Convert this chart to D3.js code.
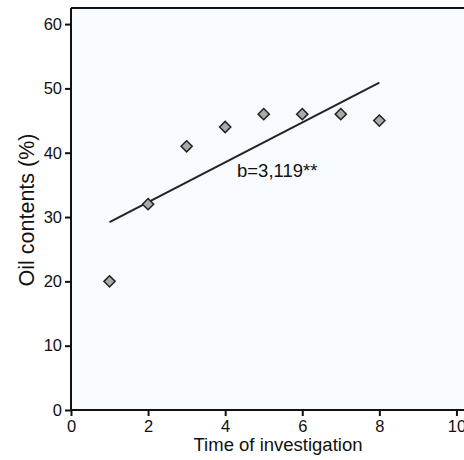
<!DOCTYPE html>
<html><head><meta charset="utf-8">
<script src="https://cdn.jsdelivr.net/npm/d3@7"></script>
<style>body{margin:0;background:#fff}svg{display:block}text{font-family:"Liberation Sans",Arial,sans-serif}</style>
</head><body>
<svg id="c" width="464" height="460"></svg>
<script>
const xs = [1,2,3,4,5,6,7,8];
const oil = [20,32,41,44,46,46,46,45];
const slope = 3.119;
const lineX = [1,8];
const lineY = [29.2,50.9];
const xTicks = [0,2,4,6,8,10];
const yTicks = [0,10,20,30,40,50,60];

const svg = d3.select("#c");
const x = d3.scaleLinear().domain([0,10.3]).range([71,468]);
const y = d3.scaleLinear().domain([0,62.5]).range([410,8]);

svg.append("rect").attr("x",x(0)).attr("y",y(62.5)).attr("width",x(10.3)-x(0)).attr("height",y(0)-y(62.5)).attr("fill","#f7fbff");
svg.append("line").attr("x1",x(0)).attr("x2",x(10.3)).attr("y1",y(62.5)).attr("y2",y(62.5)).attr("stroke","#111").attr("stroke-width",2);

const gx = svg.append("g").attr("transform",`translate(0,${y(0)})`)
  .call(d3.axisBottom(x).tickValues(xTicks).tickSize(6).tickPadding(4).tickFormat(d3.format("d")));
const gy = svg.append("g").attr("transform",`translate(${x(0)},0)`)
  .call(d3.axisLeft(y).tickValues(yTicks).tickSize(6).tickPadding(3).tickFormat(d3.format("d")));
[gx,gy].forEach(g=>{
  g.selectAll("path,line").attr("stroke","#111").attr("stroke-width",2);
  g.selectAll("text").attr("font-size",16.5).attr("fill","#111").attr("font-family","Liberation Sans, Arial, sans-serif");
});
gx.select(".domain").attr("d",`M${x(0)},0H${x(10.3)}`);
gy.select(".domain").attr("d",`M0,${y(0)}V${y(62.5)}`);

svg.append("line").attr("x1",x(lineX[0])).attr("y1",y(lineY[0])).attr("x2",x(lineX[1])).attr("y2",y(lineY[1]))
  .attr("stroke","#222").attr("stroke-width",2);

const sym = d3.symbol().type(d3.symbolDiamond2).size(80);
svg.append("g").selectAll("path").data(xs).join("path")
  .attr("transform",(d,i)=>`translate(${x(d)},${y(oil[i])})`)
  .attr("d",sym).attr("fill","#aaaaaa").attr("stroke","#222").attr("stroke-width",1.5);

svg.append("text").attr("x",237).attr("y",177).attr("font-size",18.5).attr("fill","#111")
  .text("b=" + String(slope).replace(".",",") + "**");

svg.append("text").attr("x",278).attr("y",451).attr("text-anchor","middle").attr("font-size",18.5).attr("fill","#111").text("Time of investigation");
svg.append("text").attr("transform",`translate(34,210) rotate(-90)`).attr("text-anchor","middle").attr("font-size",21.5).attr("fill","#111").text("Oil contents (%)");
</script>
</body></html>
